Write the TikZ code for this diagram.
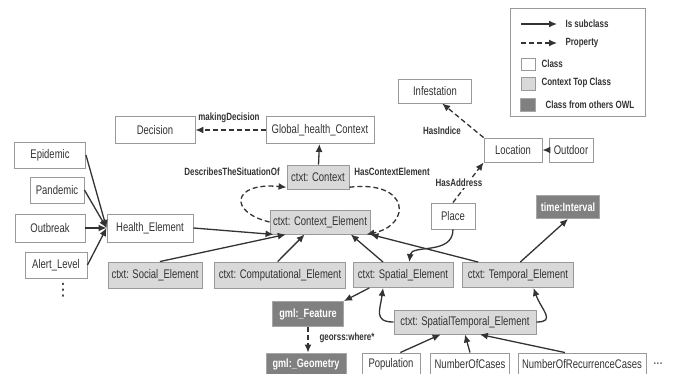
\documentclass[tikz,border=0pt]{standalone}
\usepackage{fontspec}
\setmainfont[FakeStretch=0.76]{Liberation Sans}
\newfontfamily\symfont{DejaVu Sans}
\usetikzlibrary{arrows.meta}

\begin{document}
\begin{tikzpicture}[x=1pt, y=-1pt,
    every node/.style={font=\fontsize{12.5}{14}\selectfont, text=black!80},
    cls/.style={draw=gray!80, fill=white, line width=0.9pt, inner sep=0pt},
    topcls/.style={cls, fill=gray!30},
    owlcls/.style={cls, fill=black!50, draw=gray!70, text=white, font=\fontsize{12}{14}\selectfont\bfseries},
    isa/.style={draw=black!80, line width=1.3pt, -{Latex[length=8pt, width=7pt]}},
    prop/.style={isa, dash pattern=on 5pt off 3pt},
    lbl/.style={font=\fontsize{10.5}{12}\selectfont\bfseries}]
    \useasboundingbox (0,0) rectangle (675,374);
    % Legend box
    \draw[gray!80, line width=0.8pt] (510,8) rectangle (645,116);
    \coordinate (subA) at (521,24);
    \coordinate (subB) at (557,24);
    \coordinate (propA) at (521,43);
    \coordinate (propB) at (557,43);
    \draw[isa] (subA) -- (subB);
    \draw[prop] (propA) -- (propB);
    \node[lbl, anchor=west] (legsub) at (562,24) {Is subclass};
    \node[lbl, anchor=west] (legprop) at (562,43) {Property};
    \node[cls, minimum width=14, minimum height=12] (keycls) at (528,64) {};
    \node[lbl, anchor=west] (legcls) at (538,64) {Class};
    \node[topcls, minimum width=14, minimum height=13] (keytop) at (528,84) {};
    \node[lbl, anchor=west] (legtop) at (538,83) {Context Top Class};
    \node[owlcls, minimum width=15, minimum height=13] (keyowl) at (528,105) {};
    \node[lbl, anchor=west] (legowl) at (542,105) {Class from others OWL};
    % Context classes
    \node[cls, minimum width=80, minimum height=27] (decision) at (155,130) {Decision};
    \node[cls, minimum width=108, minimum height=27] (global) at (320,130) {Global\_health\_Context};
    \node[topcls, minimum width=62, minimum height=24] (context) at (318,177) {ctxt: Context};
    \node[topcls, minimum width=100, minimum height=24] (ctxelem) at (320,222) {ctxt: Context\_Element};
    % Health classes
    \node[cls, minimum width=71, minimum height=26] (epidemic) at (50,155) {Epidemic};
    \node[cls, minimum width=54, minimum height=26] (pandemic) at (57,190) {Pandemic};
    \node[cls, minimum width=70, minimum height=28] (outbreak) at (50,228) {Outbreak};
    \node[cls, minimum width=62, minimum height=26] (alert) at (56,265) {Alert\_Level};
    \node[font=\fontsize{17}{18}\selectfont] (moreA) at (63,290) {\symfont ⋮};
    \node[cls, minimum width=86, minimum height=28] (health) at (150,228) {Health\_Element};
    % Context elements
    \node[topcls, minimum width=94, minimum height=26] (social) at (155,275) {ctxt: Social\_Element};
    \node[topcls, minimum width=131, minimum height=26] (comput) at (280,275) {ctxt: Computational\_Element};
    \node[topcls, minimum width=100, minimum height=25] (spatial) at (403,275) {ctxt: Spatial\_Element};
    \node[topcls, minimum width=111, minimum height=25] (temporal) at (518,275) {ctxt: Temporal\_Element};
    \node[topcls, minimum width=142, minimum height=24] (spatemp) at (465,322) {ctxt: SpatialTemporal\_Element};
    % Other OWL classes
    \node[owlcls, minimum width=71, minimum height=25] (feature) at (308,314) {gml:\_Feature};
    \node[owlcls, minimum width=80, minimum height=22] (geometry) at (306,364) {gml:\_Geometry};
    \node[owlcls, minimum width=63, minimum height=23] (interval) at (568,207) {time:Interval};
    % Measures
    \node[cls, minimum width=58, minimum height=22] (popul) at (391,364) {Population};
    \node[cls, minimum width=79, minimum height=22] (cases) at (470,364) {NumberOfCases};
    \node[cls, minimum width=128, minimum height=22] (recur) at (582,364) {NumberOfRecurrenceCases};
    \node[font=\fontsize{15}{16}\selectfont] (moreB) at (658,364) {...};
    % Place and location
    \node[cls, minimum width=44, minimum height=26] (place) at (453,216) {Place};
    \node[cls, minimum width=58, minimum height=24] (location) at (513,150) {Location};
    \node[cls, minimum width=44, minimum height=24] (outdoor) at (571,150) {Outdoor};
    \node[cls, minimum width=73, minimum height=24] (infest) at (435,91) {Infestation};
    % Subclass arrows
    \draw[isa] (context) -- (global);
    \draw[isa] (epidemic.east) -- (health.west);
    \draw[isa] (pandemic.east) -- (health.west);
    \draw[isa] (outbreak.east) -- (health.west);
    \draw[isa] (alert.east) -- (health.west);
    \draw[isa] (health.east) -- (ctxelem.195);
    \draw[isa] (social.70) -- (ctxelem.200);
    \draw[isa] (comput.100) -- (ctxelem.-141);
    \draw[isa] (spatial.147) -- (ctxelem.-22);
    \draw[isa] (temporal.162) -- (ctxelem.south east);
    \draw[isa] (temporal.80) -- (interval.south);
    \draw[isa] (spatial.-159) -- (feature.north east);
    \draw[isa] (place.south) .. controls +(0,26) and +(2,-18) .. (spatial.64);
    \draw[isa] (spatemp.west) .. controls +(-20,0) and +(-3,22) .. (spatial.-147);
    \draw[isa] (spatemp.east) .. controls +(20,0) and +(8,22) .. (temporal.-40);
    \draw[isa] (popul.51) -- (spatemp.-153);
    \draw[isa] (cases.north) -- (spatemp.south);
    \draw[isa] (recur.146) -- (spatemp.-40);
    \draw[isa] (outdoor) -- (location);
    % Properties
    \draw[prop] (global) -- (decision);
    \node[lbl] (makdec) at (229,118) {makingDecision};
    \draw[prop] (ctxelem.west) .. controls (228,212) and (232,182) .. (context.198);
    \node[lbl] (descr) at (232,172) {DescribesTheSituationOf};
    \draw[prop] (context.-18) .. controls (410,180) and (412,225) .. (ctxelem.-15);
    \node[lbl] (hasctx) at (392,172) {HasContextElement};
    \draw[prop] (feature.south) -- (feature.south |- geometry.north);
    \node[lbl, anchor=west] (georss) at (316,338) {georss:where*};
    \draw[prop] (place.north) -- (location.south west);
    \node[lbl, fill=white, inner sep=1pt] (hasaddr) at (459,183) {HasAddress};
    \draw[prop] (location.north west) -- (infest.-60);
    \node[lbl] (hasind) at (442,131) {HasIndice};
\end{tikzpicture}
\end{document}
